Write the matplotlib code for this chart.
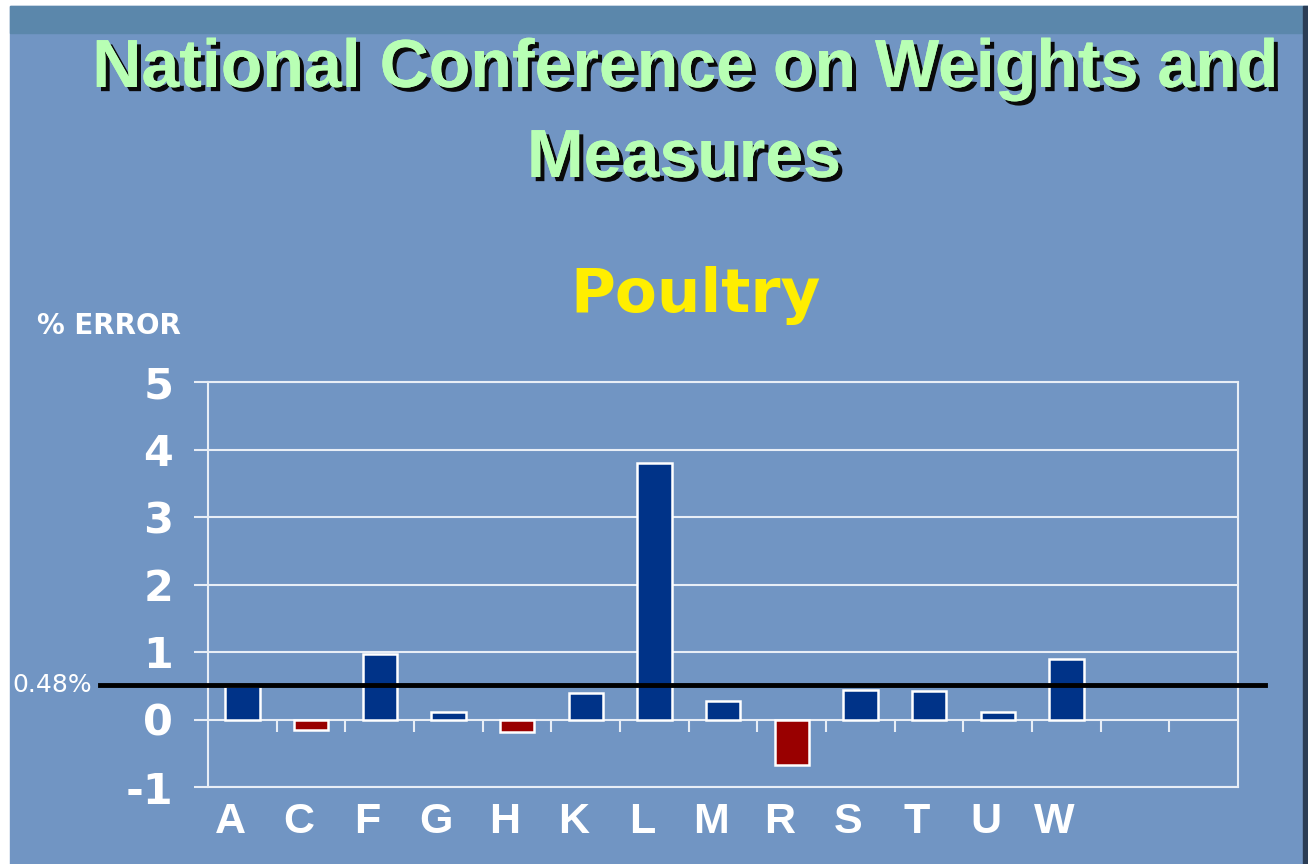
import matplotlib
matplotlib.use("Agg")
import matplotlib.pyplot as plt
import matplotlib.patches as mpatches
import matplotlib.patheffects as pe
import matplotlib.transforms as mtransforms

# ==============================
# DATA
# ==============================
categories = ["A", "C", "F", "G", "H", "K", "L", "M", "R", "S", "T", "U", "W"]
pct_error = [0.50, -0.16, 0.97, 0.11, -0.19, 0.40, 3.80, 0.28, -0.68, 0.44, 0.42, 0.11, 0.89]
n_slots = 15                      # chart has two empty slots after W
avg_line = 0.51
avg_label = "0.48%"
y_ticks = [-1, 0, 1, 2, 3, 4, 5]

title_1 = "National Conference on Weights and"
title_2 = "Measures"
subtitle = "Poultry"
y_title = "% ERROR"

# ==============================
# COLOURS
# ==============================
bg_color = "#7195c3"
band_color = "#5b87ab"
pos_color = "#003388"
neg_color = "#990000"
grid_color = "#e8eef6"

W, H = 1308, 864
fig = plt.figure(figsize=(W / 100, H / 100), dpi=100)
fig.patch.set_facecolor("white")

# slide background (small white margin left / top)
fig.patches.append(mpatches.Rectangle((10 / W, 0), 1 - 10 / W, 1 - 6 / H,
                                      transform=fig.transFigure, color=bg_color, zorder=-10))
fig.patches.append(mpatches.Rectangle((10 / W, 1 - 33 / H), 1 - 10 / W, 27 / H,
                                      transform=fig.transFigure, color=band_color, zorder=-9))
fig.patches.append(mpatches.Rectangle((1 - 5 / W, 0), 5 / W, 1 - 6 / H,
                                      transform=fig.transFigure, color="#2b3d55", zorder=-9))

# ==============================
# TITLES
# ==============================
shadow = [pe.withSimplePatchShadow(offset=(3, -3), shadow_rgbFace="#0a0a0a", alpha=1.0),
          pe.Normal()]
fig.text(685 / W, 1 - 87 / H, title_1, ha="center", va="baseline",
         family="Liberation Sans", weight="bold", fontsize=49, color="#b8ffb4",
         path_effects=shadow)
fig.text(684 / W, 1 - 177 / H, title_2, ha="center", va="baseline",
         family="Liberation Sans", weight="bold", fontsize=49, color="#b8ffb4",
         path_effects=shadow)
fig.text(696 / W, 1 - 312 / H, subtitle, ha="center", va="baseline",
         family="DejaVu Sans", weight="bold", fontsize=44, color="#ffee00")
fig.text(37 / W, 1 - 334 / H, y_title, ha="left", va="baseline",
         family="DejaVu Sans", weight="bold", fontsize=20, color="white")

# ==============================
# CHART
# ==============================
ax = fig.add_axes([208 / W, 1 - 787 / H, 1030 / W, 405 / H])
ax.set_facecolor("none")

x = list(range(len(categories)))
colors = [pos_color if v >= 0 else neg_color for v in pct_error]
ax.bar(x, pct_error, width=0.5, color=colors, edgecolor="white", linewidth=1.8, zorder=3)

ax.set_xlim(-0.5, n_slots - 0.5)
ax.set_ylim(y_ticks[0], y_ticks[-1])
ax.set_yticks(y_ticks)
ax.set_yticklabels([str(t) for t in y_ticks])
ax.grid(axis="y", color=grid_color, linewidth=1.5, zorder=1)
ax.set_axisbelow(True)

for side in ["left", "right", "top", "bottom"]:
    ax.spines[side].set_color(grid_color)
    ax.spines[side].set_linewidth(1.5)

ax.tick_params(axis="y", direction="out", length=10, width=1.5, color=grid_color,
               pad=15, labelcolor="white", labelsize=31)
for lbl in ax.get_yticklabels():
    lbl.set_fontweight("bold")
    lbl.set_family("DejaVu Sans")

ax.set_xticks(x)
ax.set_xticklabels(categories)
ax.tick_params(axis="x", length=0, pad=11, labelcolor="white", labelsize=31)
shift = mtransforms.ScaledTranslation(-12 / 100, 0, fig.dpi_scale_trans)
for lbl in ax.get_xticklabels():
    lbl.set_fontweight("bold")
    lbl.set_family("Liberation Sans")
    lbl.set_transform(lbl.get_transform() + shift)

# category separators hanging below the zero line
ax.vlines([i + 0.5 for i in range(n_slots - 1)], -0.19, 0, color=grid_color,
          linewidth=1.5, zorder=2)

# average error line, running past the plot frame
blend = mtransforms.blended_transform_factory(ax.transAxes, ax.transData)
ax.plot([-0.105, 1.026], [avg_line, avg_line], color="black", linewidth=3.5,
        transform=blend, clip_on=False, zorder=5)
fig.text(12 / W, 0, avg_label, ha="left", va="center", family="DejaVu Sans",
         fontsize=18, color="white",
         transform=mtransforms.blended_transform_factory(fig.transFigure, ax.transData),
         position=(12 / W, avg_line))

fig.savefig("out.png", dpi=100, facecolor=fig.get_facecolor())
